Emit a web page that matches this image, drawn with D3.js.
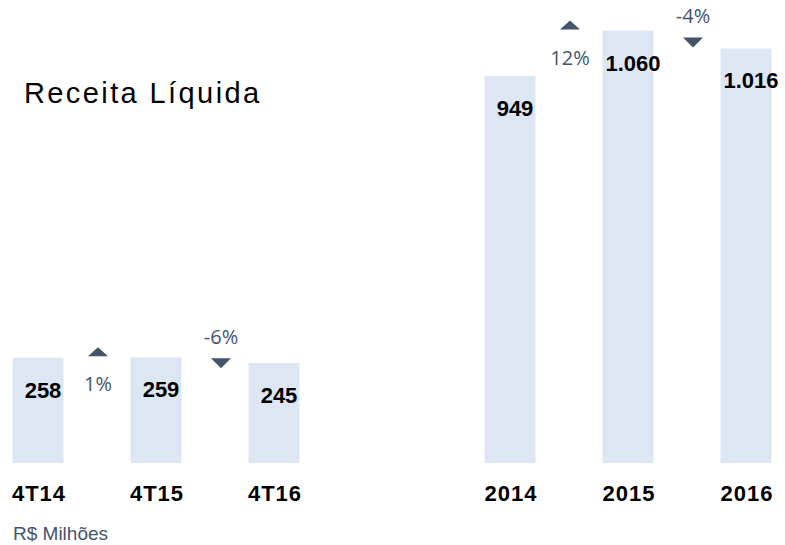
<!DOCTYPE html>
<html>
<head>
<meta charset="utf-8">
<script src="https://cdn.jsdelivr.net/npm/d3@7"></script>
<style>
  body { margin: 0; background: #fff; }
  svg { display: block; }
</style>
</head>
<body>
<script>
const categories = ["4T14", "4T15", "4T16", "", "2014", "2015", "2016"];
const values = [258, 259, 245, null, 949, 1060, 1016];
const labels = ["258", "259", "245", "", "949", "1.060", "1.016"];
// variations between neighbouring bars
const changes = [
  { from: "4T14", to: "4T15", text: "1%", dir: "up" },
  { from: "4T15", to: "4T16", text: "-6%", dir: "down" },
  { from: "2014", to: "2015", text: "12%", dir: "up" },
  { from: "2015", to: "2016", text: "-4%", dir: "down" }
];

const width = 785, height = 545;
const barColor = "#dde7f3", accent = "#44546a";
const barW = 51;

const svg = d3.select("body").append("svg")
    .attr("width", width)
    .attr("height", height);

const x = d3.scalePoint().domain(categories).range([38, 746]);
const y = d3.scaleLinear().domain([0, 1000]).range([463, 55]);

const data = categories.map((c, i) => ({ cat: c, value: values[i], label: labels[i] }))
    .filter(d => d.value != null);

svg.append("g")
  .selectAll("rect")
  .data(data)
  .join("rect")
    .attr("x", d => x(d.cat) - barW / 2)
    .attr("y", d => y(d.value))
    .attr("width", barW)
    .attr("height", d => y(0) - y(d.value))
    .attr("fill", barColor);

svg.append("g")
    .attr("font-family", "'Liberation Sans', Arial, sans-serif")
    .attr("font-weight", "bold")
    .attr("font-size", 22)
    .attr("text-anchor", "middle")
  .selectAll("text")
  .data(data)
  .join("text")
    .attr("x", d => x(d.cat) + 5)
    .attr("y", d => y(d.value) + 40)
    .attr("fill", "#000")
    .text(d => d.label);

svg.append("g")
    .attr("font-family", "'Liberation Sans', Arial, sans-serif")
    .attr("font-weight", "bold")
    .attr("font-size", 22)
    .attr("letter-spacing", 1)
    .attr("text-anchor", "middle")
  .selectAll("text")
  .data(data)
  .join("text")
    .attr("x", d => x(d.cat) + 1)
    .attr("y", 501)
    .attr("fill", "#000")
    .text(d => d.cat);

const valOf = c => values[categories.indexOf(c)];

const chg = svg.append("g")
  .selectAll("g")
  .data(changes)
  .join("g")
    .attr("transform", d => {
      const cx = (x(d.from) + x(d.to)) / 2 + (d.dir === "down" ? 6 : 1);
      const cy = d.dir === "up"
        ? y(valOf(d.to)) - 1
        : (y(valOf(d.from)) + y(valOf(d.to))) / 2 - 2;
      return `translate(${cx},${cy})`;
    });

chg.append("path")
    .attr("d", d => d.dir === "up" ? "M-10,0L10,0L0,-9Z" : "M-10,0L10,0L0,10Z")
    .attr("fill", accent);

chg.append("text")
    .attr("font-family", "'Open Sans', sans-serif")
    .attr("font-size", 20)
    .attr("text-anchor", "middle")
    .attr("fill", accent)
    .attr("y", d => d.dir === "up" ? 35 : -14)
    .text(d => d.text);

svg.append("text")
    .attr("x", 24)
    .attr("y", 103)
    .attr("font-family", "'Liberation Sans', Arial, sans-serif")
    .attr("font-size", 29)
    .attr("letter-spacing", 2.4)
    .attr("fill", "#000")
    .text("Receita Líquida");

svg.append("text")
    .attr("x", 13)
    .attr("y", 540)
    .attr("font-family", "'Liberation Sans', Arial, sans-serif")
    .attr("font-size", 19)
    .attr("fill", accent)
    .text("R$ Milhões");
</script>
</body>
</html>
